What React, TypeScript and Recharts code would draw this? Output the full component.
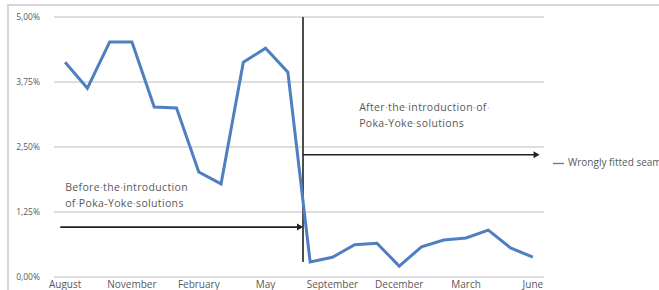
import React from 'react';
import {
  LineChart,
  Line,
  XAxis,
  YAxis,
  CartesianGrid,
  Legend,
  ReferenceLine,
  ReferenceDot
} from 'recharts';

const months = [
  'August', 'September', 'October', 'November', 'December', 'January', 'February', 'March',
  'April', 'May', 'June', 'August', 'September', 'October', 'November', 'December',
  'January', 'February', 'March', 'April', 'May', 'June'
];
const wronglyFitted = [
  4.13, 3.63, 4.52, 4.52, 3.27, 3.25, 2.02, 1.79, 4.13, 4.4, 3.94,
  0.29, 0.38, 0.62, 0.65, 0.21, 0.58, 0.71, 0.75, 0.9, 0.56, 0.38
];
const yTicks = [0, 1.25, 2.5, 3.75, 5];
const xTicks = [0, 3, 6, 9, 12, 15, 18, 21];
const beforeText = ['Before the introduction', 'of Poka-Yoke solutions'];
const afterText = ['After the introduction of ', 'Poka-Yoke solutions'];

const data = wronglyFitted.map((v, i) => ({ i, month: months[i], value: v }));

const textColor = '#595959';
const dotColor = '#8fb3e0';
const font = "'Open Sans', 'Liberation Sans', sans-serif";

// word-processor style text with the visible space marks
const MarkedLine = ({ line, x, y }: { line: string; x: number; y: number }) => {
  const words = line.split(' ');
  return (
    <text x={x} y={y} fontSize={10.5} letterSpacing={0.35} fill={textColor} fontFamily={font}>
      {words.map((w, k) => (
        <React.Fragment key={k}>
          <tspan>{w}</tspan>
          {k < words.length - 1 && <tspan fill={dotColor}>·</tspan>}
        </React.Fragment>
      ))}
    </text>
  );
};

const noteShape = (lines: string[]) => (props: any) => (
  <g>
    {lines.map((l, k) => (
      <MarkedLine key={k} line={l} x={props.cx} y={props.cy + k * 16.5} />
    ))}
  </g>
);

const arrowShape = (props: any) => {
  const { x1, y1, x2, y2 } = props;
  return (
    <g>
      <line x1={x1} y1={y1} x2={x2 - 3} y2={y2} stroke="#222" strokeWidth={1.6} />
      <polygon points={`${x2},${y2} ${x2 - 6},${y2 - 3.5} ${x2 - 6},${y2 + 3.5}`} fill="#222" />
    </g>
  );
};

export default function App() {
  return (
    <div style={{ position: 'absolute', left: 0, top: 0, width: 659, height: 290, background: '#fff', overflow: 'hidden' }}>
      <div
        style={{
          position: 'absolute',
          left: 7,
          top: 4,
          width: 660,
          height: 300,
          borderTop: '2px solid #d6d6d6',
          borderLeft: '2px solid #d6d6d6'
        }}
      />
      <div style={{ position: 'absolute', left: 0, top: 0 }}>
        <LineChart width={659} height={290} data={data} margin={{ top: 17, right: 9, left: 0, bottom: 0 }}>
          <CartesianGrid vertical={false} stroke="#d3d3d3" strokeWidth={1.5} />
          <XAxis
            dataKey="i"
            type="number"
            domain={[-0.5, 21.5]}
            ticks={xTicks}
            tickFormatter={(i: number) => months[i]}
            interval={0}
            height={13}
            tickLine={false}
            axisLine={false}
            tickSize={0}
            tickMargin={4}
            tick={{ fontSize: 10, fill: textColor, fontFamily: font }}
          />
          <YAxis
            domain={[0, 5]}
            ticks={yTicks}
            width={54}
            tickFormatter={(v: number) => v.toFixed(2).replace('.', ',') + '%'}
            tickLine={false}
            axisLine={false}
            tickSize={0}
            tickMargin={14}
            tick={{ fontSize: 8.5, fill: textColor, fontFamily: font }}
          />
          <Legend
            layout="vertical"
            align="right"
            verticalAlign="top"
            iconType="plainline"
            iconSize={11}
            wrapperStyle={{ left: 553, top: 155, width: 106, whiteSpace: 'nowrap', fontSize: 10, fontFamily: font }}
            formatter={(v: string) => <span style={{ color: textColor, whiteSpace: 'nowrap' }}>{v}</span>}
          />
          <ReferenceLine
            segment={[{ x: 10.68, y: 0.29 }, { x: 10.68, y: 5 }]}
            stroke="#4d4d4d"
            strokeWidth={2}
            ifOverflow="visible"
          />
          <ReferenceLine
            segment={[{ x: -0.22, y: 0.96 }, { x: 10.68, y: 0.96 }]}
            shape={arrowShape}
            ifOverflow="visible"
          />
          <ReferenceLine
            segment={[{ x: 10.68, y: 2.35 }, { x: 21.3, y: 2.35 }]}
            shape={arrowShape}
            ifOverflow="visible"
          />
          <ReferenceDot x={0} y={1.66} r={0} shape={noteShape(beforeText)} ifOverflow="visible" />
          <ReferenceDot x={13.2} y={3.2} r={0} shape={noteShape(afterText)} ifOverflow="visible" />
          <Line
            type="linear"
            dataKey="value"
            name="Wrongly fitted seams"
            stroke="#4f7fc0"
            strokeWidth={3}
            dot={false}
            activeDot={false}
            isAnimationActive={false}
          />
        </LineChart>
      </div>
    </div>
  );
}
